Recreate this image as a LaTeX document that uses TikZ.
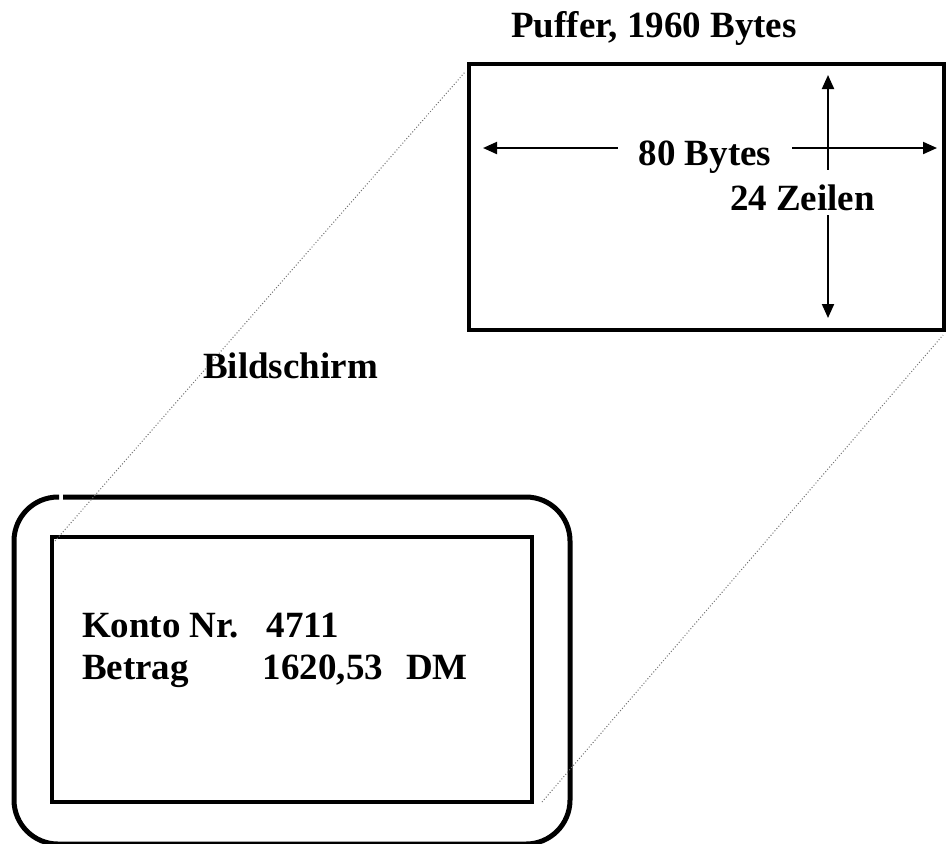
\documentclass[tikz,border=0pt]{standalone}
\usepackage{fontspec}
\setmainfont{Liberation Serif}
\usetikzlibrary{arrows.meta}
\begin{document}
\begin{tikzpicture}[x=0.5pt,y=-0.5pt,
  txt/.style={font=\fontsize{18.5pt}{21pt}\selectfont\bfseries, inner sep=0pt, outer sep=0pt},
  boxthick/.style={draw=black, line width=2.4pt, outer sep=0pt, inner sep=0pt},
  frame/.style={draw=black, line width=2.5pt},
  arr/.style={line width=1pt, {Triangle[length=7pt,width=6pt]}-{Triangle[length=7pt,width=6pt]}},
  dotline/.style={draw=black!55, line width=0.5pt, dash pattern=on 0.5pt off 1pt}
]
\useasboundingbox (0,0) rectangle (946,843);

% buffer rectangle
\node[boxthick, minimum width=237.5pt, minimum height=133pt] (buf) at (706.5,197) {};
% inner screen rectangle
\node[boxthick, minimum width=240pt, minimum height=132.5pt] (scr) at (292,669.5) {};
% outer screen frame (rounded, with a small gap top left)
\draw[frame, rounded corners=22pt] (63,497) -- (570,497) -- (570,844) -- (14,844) -- (14,497) -- (59,497);

% dotted projection lines
\coordinate (d1a) at (55,541);
\coordinate (d1b) at (465,72);
\coordinate (d2a) at (542,802);
\coordinate (d2b) at (943,335);
\draw[dotline] (d1a) -- (d1b);
\draw[dotline] (d2a) -- (d2b);

% arrows
\coordinate (hl) at (483,148);
\coordinate (hr) at (937,148);
\coordinate (vt) at (828,75);
\coordinate (vb) at (828,318);
\draw[arr] (hl) -- (hr);
\draw[arr] (vt) -- (vb);

% texts
\node[txt, anchor=base, fill=white, inner xsep=4pt, text height=20pt, text depth=2.5pt] (zeilen) at (802.5,210) {24 Zeilen};
\node[txt, anchor=base, fill=white, inner xsep=10.25pt, inner ysep=1pt] (bytes) at (705,165) {80 Bytes};
\node[txt, anchor=base] (puffer) at (654,37) {Puffer, 1960 Bytes};
\node[txt, anchor=base] (bild) at (290.5,378) {Bildschirm};
\node[txt, anchor=base west] (konto) at (82,637) {Konto Nr.\hspace{0.757em}4711};
\node[txt, anchor=base west] (betrag) at (82,679) {Betrag\hspace{2em}1620,53\hspace{0.62em}DM};
\end{tikzpicture}
\end{document}
